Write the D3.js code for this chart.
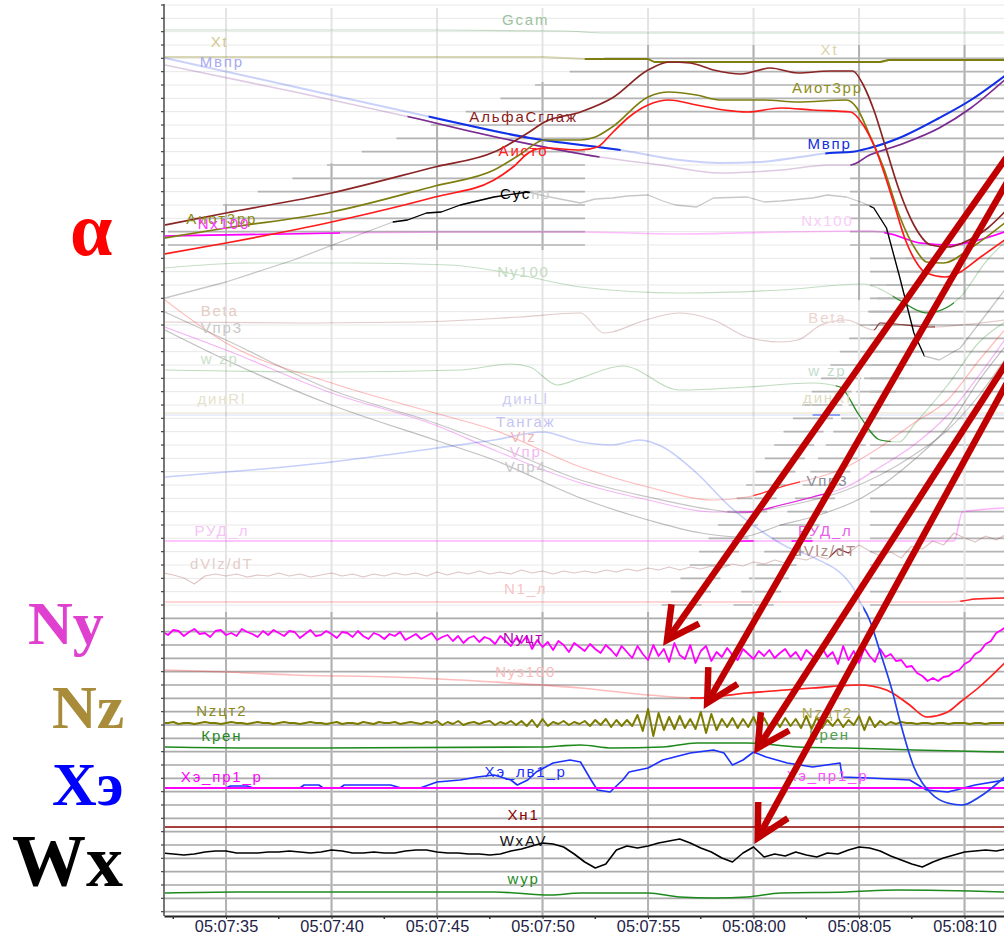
<!DOCTYPE html>
<html>
<head>
<meta charset="utf-8">
<script src="https://cdnjs.cloudflare.com/ajax/libs/d3/7.8.5/d3.min.js"></script>
<style>
html, body { margin: 0; padding: 0; background: #fff; }
svg { display: block; }
.axis-x text { font-family: Arial, "Liberation Sans", sans-serif; font-size: 16.3px; }
</style>
</head>
<body>
<div id="chart"></div>
<script>
// time = seconds after 05:07:00, value = trace units (0 at the bottom of the plot)
const tStart = 32.06, tEnd = 71.87;
const majorTicks = [30, 35, 40, 45, 50, 55, 60, 65, 70];
const minorTicks = [32.5, 37.5, 42.5, 47.5, 52.5, 57.5, 62.5, 67.5];

// ---- smooth traces, [t, value] ----
const gcam = [[32.1,88.5],[45,88.5],[51,88.4],[53,88.2],[72,88.2]];
const xt = [[32.1,85.8],[50,85.8],[52,85.6],[55.0,85.6],[55.3,85.3],[66.0,85.3],[66.4,85.5],[72,85.5]];
const mvpr = [[32.1,85.7],[38.5,82.7],[44.7,79.8],[49.4,77.7],[53.7,76.5],[56.5,75.5],[58.4,75.2],[60.3,75.3],[62.2,75.8],[63.6,76.2],[64.6,76.3],[65.5,76.7],[66.9,77.7],[68.8,79.7],[70.3,81.5],[71.9,83.9]];
const mvprZ = [[32.1,85.0],[38.5,82.2],[43.7,79.8],[48.0,77.7],[52.7,75.8],[55.6,75.0],[58.4,74.2],[61.3,74.5],[63.6,75.0],[64.6,75.0],[65.5,76.0],[66.9,77.0],[68.8,78.7],[70.3,80.7],[71.9,83.5]];
const alfa = [[32.1,69.0],[35.0,70.2],[40.0,72.2],[44.9,74.8],[47.7,76.3],[49.3,78.2],[50.1,79.3],[51.8,80.3],[53.3,81.7],[55.0,84.5],[56.0,85.3],[57.0,85.2],[58.1,84.5],[59.4,84.1],[60.8,84.7],[62.1,84.2],[63.6,84.4],[64.7,84.4],[65.2,83.0],[65.7,80.5],[66.3,76.5],[66.9,72.5],[67.6,69.0],[68.4,67.0],[69.2,66.8],[69.9,67.2],[71.1,68.7],[71.9,70.3]];
const aiot = [[32.1,67.7],[35.0,68.7],[40.0,70.3],[44.9,72.9],[47.7,74.5],[48.9,76.0],[50.1,77.5],[51.8,77.5],[52.5,77.8],[53.3,78.8],[55.0,81.8],[56.0,82.3],[57.3,82.0],[58.4,81.5],[60.5,81.5],[62.1,81.3],[64.4,81.5],[64.9,80.7],[65.5,78.0],[66.2,74.5],[66.9,70.0],[67.7,66.5],[68.2,65.3],[69.0,65.2],[70.3,66.7],[71.9,69.2]];
const aisto = [[32.1,66.1],[35.0,67.2],[40.0,69.3],[44.9,71.8],[47.7,73.5],[48.6,74.8],[49.4,76.3],[50.1,76.7],[51.8,76.5],[52.6,76.8],[53.3,78.2],[54.1,79.8],[55.0,81.0],[56.0,81.5],[57.3,81.0],[58.6,80.5],[59.7,80.3],[61.3,80.7],[62.8,80.5],[64.6,80.3],[65.2,79.0],[65.8,76.5],[66.6,71.5],[67.2,67.5],[67.8,65.0],[68.1,64.3],[69.1,63.8],[69.8,64.3],[70.7,65.7],[71.9,67.5]];
const suspr = [[32.1,61.7],[35.0,63.3],[38.2,65.5],[41.4,68.1],[42.9,69.3],[43.6,69.5],[44.5,70.2],[45.2,70.3],[46.1,71.0],[47.7,71.8],[49.3,72.3],[50.1,71.9],[51.8,71.2],[52.5,71.6],[53.3,71.7],[54.0,71.9],[55.0,72.0],[55.7,71.4],[56.3,71.0],[57.3,70.8],[58.1,71.7],[59.7,71.8],[60.5,71.3],[61.3,71.4],[62.8,71.7],[63.5,72.0],[64.4,71.8],[65.2,71.2],[65.7,70.7],[66.3,68.7],[66.9,64.0],[67.6,58.2],[68.1,55.9],[68.8,55.5],[69.8,56.7],[71.0,60.0],[71.9,62.5]];
const nx100 = [[32.1,67.9],[40.4,68.2],[45.6,68.3],[51.8,68.3],[56.5,68.1],[61.3,68.3],[65.5,68.4],[66.5,68.1],[67.9,67.2],[69.4,67.0],[70.5,67.4],[71.9,68.3]];
const ny100 = [[32.1,64.7],[36.1,65.2],[40.9,65.2],[45.6,65.0],[48.9,64.0],[51.8,62.8],[56.5,62.2],[61.3,62.5],[65.2,63.1],[66.1,62.5],[66.9,61.5],[68.2,60.2],[69.2,60.8],[69.8,61.8],[71.0,65.3],[71.9,67.3]];
const beta = [[32.1,59.3],[38.5,59.2],[44.2,59.3],[48.9,59.8],[51.8,60.2],[52.9,58.2],[53.3,58.3],[54.6,59.3],[56.5,60.2],[58.1,59.5],[59.7,57.8],[61.3,57.3],[62.1,57.5],[63.2,59.0],[64.4,59.5],[65.7,58.5],[66.0,59.2],[68.4,58.8],[70.7,59.2],[71.9,59.5]];
const vlz = [[32.1,61.5],[35.0,57.2],[40.0,53.2],[44.9,50.2],[47.7,48.5],[51.8,44.8],[55.0,42.8],[58.1,41.5],[59.7,41.8],[61.3,42.8],[64.4,44.8],[66.0,46.8],[67.6,49.2],[69.2,51.5],[70.7,55.5],[71.9,58.5]];
const vpr3 = [[32.1,60.3],[35.0,57.5],[40.0,52.5],[44.9,49.2],[47.7,47.0],[51.8,43.5],[55.0,41.8],[58.1,40.5],[59.4,40.2],[61.3,40.8],[64.4,42.5],[66.0,44.0],[67.6,46.0],[69.2,48.5],[70.7,52.0],[71.9,55.5]];
const vpr = [[32.1,58.8],[35.0,56.5],[40.0,52.2],[44.9,49.0],[47.7,46.5],[51.8,43.2],[55.0,41.5],[58.1,40.3],[59.7,40.3],[61.3,41.0],[62.8,41.8],[64.4,42.8],[66.0,44.8],[67.6,47.0],[69.2,50.0],[70.7,54.0],[71.9,57.5]];
const vpr4 = [[32.1,58.5],[35.0,55.5],[40.0,51.0],[44.9,47.5],[47.7,45.5],[51.8,41.7],[55.0,39.5],[57.5,38.2],[59.4,37.8],[61.3,39.0],[62.8,39.8],[65.2,41.8],[67.6,45.5],[69.2,48.8],[70.7,53.5],[71.9,56.8]];
const wzp = [[32.1,54.5],[40.0,54.3],[46.1,54.5],[48.5,55.1],[49.4,54.8],[50.7,53.0],[51.8,53.7],[53.8,54.9],[56.5,52.5],[59.7,52.8],[62.8,53.2],[64.1,52.8],[65.0,50.0],[66.0,47.5],[66.9,47.3],[67.6,49.0],[69.2,53.0],[70.7,57.3],[71.9,59.3]];
const dinRl = [[32.1,50.2],[71.9,50.2]];
const dinLl = [[32.1,50.0],[71.9,50.0]];
const tangazh = [[32.1,43.8],[40.0,45.3],[45.0,46.7],[47.7,47.5],[50.0,48.3],[51.8,47.3],[53.3,47.0],[54.6,47.5],[55.7,46.8],[57.3,44.2],[58.9,40.8],[60.5,38.2],[61.6,36.8],[62.8,35.8],[64.7,32.8],[65.0,31.5],[65.5,29.5],[66.0,26.3],[66.6,22.2],[66.9,19.7],[67.6,14.8],[68.4,12.2],[69.2,11.2],[69.9,11.0],[70.7,11.8],[71.9,13.8]];
const rud = [[32.1,37.4],[69.5,37.4],[69.9,40.3],[71.9,40.7]];
const n1 = [[32.1,31.3],[69.2,31.3],[69.9,31.4],[70.5,31.6],[71.9,31.7]];
const nyz100 = [[32.1,24.5],[35.0,24.3],[38.2,24.0],[42.9,23.8],[47.7,23.3],[51.8,22.7],[55.0,22.0],[57.3,21.7],[59.7,22.2],[62.8,22.7],[65.0,23.0],[66.3,22.5],[67.4,21.0],[68.2,19.8],[69.2,20.3],[69.8,21.3],[70.7,22.8],[71.9,25.2]];
const kren = [[32.1,16.8],[36.6,16.7],[50.0,16.8],[50.8,16.9],[51.8,17.0],[53.3,16.7],[55.7,16.8],[57.3,17.2],[59.7,17.2],[62.1,16.8],[64.4,16.7],[67.6,16.5],[71.9,16.3]];
const xePr = [[32.1,12.7],[71.9,12.7]];
const xeLv = [[32.1,12.7],[35.0,12.7],[35.2,12.9],[36.0,12.9],[36.3,12.7],[38.5,12.7],[38.7,13.0],[39.4,13.0],[39.6,12.7],[40.4,12.7],[40.6,13.0],[42.8,13.0],[43.3,12.7],[44.2,12.7],[45.0,13.3],[46.1,13.5],[46.9,13.8],[47.7,14.0],[48.5,13.5],[48.8,13.0],[49.3,13.5],[49.7,14.3],[50.5,15.2],[51.3,15.5],[51.8,15.3],[52.3,13.5],[52.6,12.5],[53.2,12.3],[53.8,13.5],[54.1,14.3],[55.0,14.7],[55.7,15.5],[57.0,16.2],[58.1,16.5],[58.6,16.2],[59.0,15.0],[59.5,15.5],[60.0,16.3],[60.6,15.8],[61.6,15.2],[62.8,14.8],[64.1,15.2],[64.2,13.8],[65.5,13.7],[67.4,13.5],[68.2,12.5],[69.2,12.3],[69.6,12.5],[70.5,13.0],[71.9,13.5]];
const xn1 = [[32.1,8.8],[71.9,8.8]];
const wyp = [[32.1,2.2],[35.5,2.3],[47.7,2.3],[50.4,2.0],[51.8,2.2],[55.0,2.2],[56.5,1.8],[58.1,1.7],[59.7,1.8],[61.3,2.2],[64.4,2.3],[66.8,2.5],[71.9,2.3]];

// ---- sampled traces (start 32 s) ----
const nyStep = 0.25;
const nyVals = [
  28.3,28.0,28.5,28.4, 27.9,28.3,28.6,28.1, 28.2,27.8,28.4,28.5, 28.0,28.2,27.9,28.6,
  28.3,28.1,27.8,28.4, 28.0,28.5,28.2,27.9, 28.4,28.3,27.7,28.1, 28.5,27.9,28.0,28.4,
  28.1,27.7,28.3,28.2, 27.8,28.4,27.9,27.6, 28.2,28.0,27.6,28.1, 27.9,28.3,27.5,27.8,
  28.1,27.6,27.9,28.2, 27.5,27.8,28.0,27.4, 27.9,27.2,27.7,27.9, 27.3,27.8,27.6,27.1,
  27.9,27.4,26.9,27.7, 27.2,27.9,26.6,27.5, 26.8,27.3,26.5,27.4, 27.0,26.3,27.2,26.8,
  26.4,27.1,26.6,26.2, 27.0,26.5,25.9,26.9, 26.3,25.7,26.9,26.1, 25.5,27.0,25.9,26.6,
  25.3,27.2,26.0,25.6, 27.0,25.2,26.4,26.9, 25.4,26.3,25.8,26.7, 26.0,25.5,26.6,26.1,
  25.6,26.4,25.9,26.5, 25.7,26.2,26.6,25.8, 26.3,25.5,26.5,26.0, 25.4,26.7,25.8,26.3,
  25.1,26.9,25.5,26.4, 25.2,26.7,25.9,25.3, 26.6,25.8,26.1,25.4, 25.5,24.8,24.9,24.2,
  23.9,23.4,23.7,23.4, 23.8,23.9,24.3,24.5, 25.1,25.4,26.1,26.4, 27.1,27.4,28.2,28.5,
  28.9
];
const nzStep = 0.25;
const nzVals = [
  19.2,19.2,19.3,19.1, 19.2,19.2,19.1,19.2, 19.3,19.2,19.2,19.1, 19.2,19.3,19.2,19.2,
  19.1,19.2,19.3,19.2, 19.2,19.1,19.2,19.3, 19.2,19.2,19.1,19.2, 19.3,19.2,19.2,19.1,
  19.2,19.3,19.1,19.2, 19.2,19.1,19.3,19.2, 19.1,19.3,19.2,19.2, 19.3,19.1,19.2,19.3,
  19.2,19.1,19.3,19.2, 19.4,19.0,19.3,19.1, 19.4,19.0,19.2,19.3, 19.1,19.3,19.4,19.0,
  19.3,19.1,19.4,19.0, 19.4,18.9,19.5,18.8, 19.6,18.9,19.3,19.1, 19.4,19.0,19.3,19.1,
  19.4,18.9,19.5,19.0, 19.6,18.8,19.5,18.9, 19.5,18.9,20.0,18.4, 20.6,17.9,20.2,18.5,
  19.8,18.6,19.9,18.7, 19.6,18.6,20.3,18.2, 20.1,18.5,19.6,18.8, 19.7,18.7,19.6,18.8,
  19.8,18.6,19.7,18.7, 19.6,18.8,19.7,18.9, 19.6,18.7,19.9,18.6, 19.8,18.7,19.5,18.9,
  19.6,18.8,19.5,19.0, 19.9,18.5,19.8,18.8, 19.4,19.0,19.3,19.1, 19.3,19.2,19.2,19.1,
  19.2,19.2,19.1,19.2, 19.2,19.1,19.2,19.2, 19.2,19.1,19.2,19.2, 19.1,19.2,19.2,19.2,
  19.2
];
const wxStep = 0.5;
const wxVals = [
  6.2,6.1,6.0,6.1,6.3,6.4,6.4,6.2,6.2,6.2,
  6.3,6.3,6.4,6.3,6.2,6.3,6.5,6.4,6.2,6.2,
  6.3,6.2,6.2,6.4,6.5,6.5,6.3,6.2,6.2,6.1,
  6.1,6.0,6.1,6.4,6.6,6.9,7.2,7.1,6.8,6.1,
  5.3,4.7,5.1,6.5,6.9,6.7,6.9,7.2,7.4,7.6,
  7.2,6.7,6.3,5.7,5.3,6.2,6.8,5.8,6.1,5.9,
  6.3,6.0,5.8,6.2,6.1,6.5,6.8,6.7,6.4,5.9,
  5.5,5.1,4.8,5.3,5.7,6.0,6.3,6.4,6.5,6.4,
  6.6
];
const dvlzStep = 0.5;
const dvlzVals = [
  34.2,34.0,33.7,33.1,33.9,34.1,33.9,34.1,33.8,34.0,
  33.9,34.2,33.9,34.1,33.8,34.0,34.2,33.9,34.1,33.8,
  34.1,33.9,34.2,34.0,34.2,33.9,34.3,34.0,34.3,34.1,
  34.4,34.1,34.3,34.1,34.5,34.2,34.4,34.1,34.4,34.2,
  34.4,34.2,34.5,34.3,34.6,34.4,34.7,34.5,34.8,34.5,
  34.8,34.6,34.9,34.7,35.1,34.9,35.3,35.1,35.5,35.2,
  35.7,35.5,35.9,35.6,36.6,36.2,37.0,36.4,35.9,36.3,
  35.7,36.9,36.6,37.4,37.0,38.2,37.7,37.3,37.9,37.5,
  38.1
];
const sampled = (vals, step) => vals.map((v, i) => [32 + i * step, v]);
const ny = sampled(nyVals, nyStep);
const nz = sampled(nzVals, nzStep);
const wxav = sampled(wxVals, wxStep);
const dvlz = sampled(dvlzVals, dvlzStep);

// trace labels: text, t, value
const labels = [
  ['Gcam',49.2,89.0,'#9cc39c'], ['Xt',34.7,86.8,'#d4c890'], ['Мвпр',34.8,84.8,'#a8a8f0'],
  ['АльфаСглаж',49.1,79.3,'#8b1a1a'], ['Аисто',49.1,75.9,'#ff2020'],
  ['Аиот3рр',34.8,69.1,'#8a8a10'], ['Nx100',34.9,68.6,'#ff30ff'],
  ['Ny100',49.1,63.8,'#c4dcc4'], ['Beta',34.7,59.9,'#e4ccc4'], ['Vпр3',34.8,58.2,'#c8c8c8'],
  ['w zp',34.7,55.1,'#c8dfc8'], ['динRl',34.8,51.1,'#e6e2cc'], ['динLl',49.2,51.1,'#ccccf4'],
  ['Тангаж',49.2,48.8,'#c4c4f4'], ['Vlz',49.1,47.3,'#f4b4b4'], ['Vпр',49.2,45.8,'#f2b8f2'],
  ['Vпр4',49.2,44.3,'#c8c8c8'], ['РУД_л',34.8,37.9,'#f6c4f6'], ['dVlz/dT',34.8,34.6,'#e4cec8'],
  ['N1_л',49.2,32.1,'#f8c4c4'],
  ['Xt',63.6,86.0,'#dcd4ac'], ['Аиот3рр',63.5,82.2,'#8e8e20'], ['Мвпр',63.6,76.6,'#1030e0'],
  ['Nx100',63.5,68.9,'#f8ccf8'], ['Beta',63.5,59.2,'#ecd4d0'], ['w zp',63.5,53.9,'#c4dccc'],
  ['динRl',63.5,51.2,'#e0dcc0'], ['Vпр3',63.5,42.9,'#8c8c98'], ['РУД_л',63.4,37.9,'#e860e8'],
  ['dVlz/dT',63.4,35.9,'#b08a84'],
  ['Nyцт',49.1,27.2,'#b000b0'], ['Nyз100',49.2,23.8,'#f8bcbc'], ['Nzцт2',34.8,19.9,'#8a8a20'],
  ['Крен',34.8,17.4,'#1e8a1e'], ['Хэ_пр1_р',34.8,13.3,'#ff00ff'], ['Хэ_лв1_р',49.2,13.8,'#1a30ff'],
  ['Хн1',49.1,9.5,'#8b0000'], ['WxAV',49.1,6.9,'#111'], ['wyp',49.1,3.1,'#1e8a1e'],
  ['Nzцт2',63.5,19.7,'#b0a850'], ['Крен',63.6,17.5,'#50a050'], ['Хэ_пр1_р',63.5,13.4,'#ff50ff']
];

// arrow tips and tails (t, value)
const arrowTips = [[55.9,27.5],[57.8,21.2],[60.2,16.7],[60.2,7.7]];
const arrowTails = [[73.5,80.3],[73.3,78.0],[73.4,59.8],[73.2,57.8]];

// big side captions
const sideLabels = [
  {text:'α', color:'#ff0000', x:70, y:255, size:76},
  {text:'Ny', color:'#e040d0', x:28, y:644, size:62},
  {text:'Nz', color:'#a88c3a', x:52, y:728, size:62},
  {text:'Хэ', color:'#0000ff', x:52, y:805, size:62},
  {text:'Wx', color:'#000000', x:12, y:886, size:74}
];

// ---------------------------------------------------------------
const W = 1004, H = 932;
const left = 164, right = 1004, bottom = 916;

const base = new Date(2000, 0, 1, 5, 7, 0);
const toDate = s => new Date(base.getTime() + s * 1000);
const x = d3.scaleTime().domain([toDate(tStart), toDate(tEnd)]).range([left, right]);
const xs = s => x(toDate(s));
const y = d3.scaleLinear().domain([0, 91.5]).range([915, 0]);

const svg = d3.select('#chart').append('svg')
    .attr('width', W)
    .attr('height', H);
const defs = svg.append('defs');
defs.append('clipPath').attr('id', 'plot').append('rect')
    .attr('x', left + 1).attr('y', 0).attr('width', right - left).attr('height', bottom);
defs.append('clipPath').attr('id', 'axisclip').append('rect')
    .attr('x', left - 4).attr('y', -2).attr('width', right - left + 8).attr('height', 30);

svg.append('rect').attr('width', W).attr('height', H).attr('fill', '#fff');

// arrows in pixel space (needed for the grid too)
const arrows = arrowTips.map((tip, i) => {
    const p = [xs(tip[0]), y(tip[1])];
    const q = [xs(arrowTails[i][0]), y(arrowTails[i][1])];
    return {tip: p, tail: q};
});
const arrowXat = (a, py) => a.tip[0] + (a.tail[0] - a.tip[0]) * (py - a.tip[1]) / (a.tail[1] - a.tip[1]);

// ---- grid ----
const gridG = svg.append('g').attr('class', 'grid');
const rowVals = d3.range(0, 69).map(k => 91.0 - k * 4 / 3);

function darkSpans(py) {
    if (py >= 612) return [[left, right]];
    const start = Math.max(left + 4, 600 - (py - 60) * 2.6);
    if (py >= 55 && py < 140) return [[start, right]];
    if (py >= 140 && py < 250) return [[start, 585], [850, right]];
    if (py >= 250 && py < 612) {
        const s = [[870, right]];
        if (py > 255) {
            [arrows[0], arrows[1]].forEach(a => {
                const ax = arrowXat(a, py);
                s.push([ax - 30, ax + 10]);
            });
        }
        return s;
    }
    return [];
}

rowVals.forEach(v => {
    const py = y(v);
    gridG.append('line')
        .attr('x1', left).attr('x2', right).attr('y1', py).attr('y2', py)
        .attr('stroke', '#e8e8e8').attr('stroke-width', 1);
    darkSpans(py).forEach(([a, b]) => {
        gridG.append('line')
            .attr('x1', a).attr('x2', b).attr('y1', py).attr('y2', py)
            .attr('stroke', py >= 612 ? '#ababab' : '#b4b4b4')
            .attr('stroke-width', 1.6);
    });
});

majorTicks.filter(s => s > tStart).forEach(s => {
    const px = xs(s);
    gridG.append('line')
        .attr('x1', px).attr('x2', px).attr('y1', 8).attr('y2', bottom)
        .attr('stroke', '#e4e4e4').attr('stroke-width', 2);
    let top, bot;
    if (px < 600) { top = 60 + (600 - px) / 2.6; bot = 250; }
    else if (px < 850) { top = 45; bot = 140; }
    else { top = 45; bot = 300; }
    [[top, bot], [612, bottom]].forEach(([a, b]) => {
        gridG.append('line')
            .attr('x1', px).attr('x2', px).attr('y1', a).attr('y2', b)
            .attr('stroke', '#b2b2b2').attr('stroke-width', 2);
    });
});

// ---- traces ----
const traces = [
    {data: gcam, color: '#3c8c3c', w: 1.2, fade: 0.3, bright: []},
    {data: dinRl, color: '#b8a850', w: 1.2, fade: 0.35, bright: []},
    {data: dinLl, color: '#3050f0', w: 1.2, fade: 0.2, bright: [[62.8, 64.1]]},
    {data: ny100, color: '#2a8a2a', w: 1.2, fade: 0.28, bright: [[66.6, 69.5]]},
    {data: beta, color: '#8b3030', w: 1.2, fade: 0.25, bright: [[65.7, 68.6]]},
    {data: wzp, color: '#2a8a2a', w: 1.2, fade: 0.3, bright: [[63.9, 66.5]]},
    {data: vlz, color: '#ff3030', w: 1.2, fade: 0.32, bright: [[60.0, 62.2]]},
    {data: vpr3, color: '#505050', w: 1.2, fade: 0.32, bright: []},
    {data: vpr, color: '#e020e0', w: 1.2, fade: 0.32, bright: [[59.3, 63.5]]},
    {data: vpr4, color: '#505050', w: 1.2, fade: 0.36, bright: []},
    {data: rud, color: '#ff00ff', w: 1.4, fade: 0.3, bright: [[59.0, 60.0], [61.8, 62.8]]},
    {data: dvlz, color: '#8b3030', w: 1.2, fade: 0.28, bright: [[63.6, 64.6]], raw: true},
    {data: n1, color: '#ff2020', w: 1.4, fade: 0.25, bright: [[69.8, 72]]},
    {data: xt, color: '#7e7e10', w: 1.8, fade: 0.3, bright: [[52, 72]], raw: true},
    {data: nx100, color: '#ff00ff', w: 1.6, fade: 0.25, bright: [[32, 40.4], [66.2, 72]]},
    {data: suspr, color: '#000000', w: 1.3, fade: 0.22, bright: [[42.9, 49.4], [65.5, 68.1]], raw: true},
    {data: mvpr, color: '#1030e8', w: 2, fade: 0.22, bright: [[44.6, 53.7], [63.4, 72]]},
    {data: mvprZ, color: '#7a2a90', w: 1.6, fade: 0.25, bright: [[43.6, 52.7], [64.6, 72]]},
    {data: alfa, color: '#8b2525', w: 1.7, fade: 0, bright: [[32, 72]]},
    {data: aiot, color: '#7e7e10', w: 1.7, fade: 0, bright: [[32, 72]]},
    {data: aisto, color: '#ff1a1a', w: 1.7, fade: 0, bright: [[32, 72]]},
    {data: nyz100, color: '#ff2020', w: 1.6, fade: 0.3, bright: [[57, 72]]},
    {data: ny, color: '#ff00ff', w: 1.8, fade: 0, bright: [[32, 72]], raw: true},
    {data: nz, color: '#7c7c00', w: 2, fade: 0, bright: [[32, 72]], raw: true},
    {data: kren, color: '#1e8a1e', w: 1.6, fade: 0, bright: [[32, 72]]},
    {data: xeLv, color: '#1a30ff', w: 1.6, fade: 0, bright: [[32, 72]], raw: true},
    {data: xePr, color: '#ff00ff', w: 2, fade: 0, bright: [[32, 72]]},
    {data: xn1, color: '#8b0000', w: 1.6, fade: 0, bright: [[32, 72]]},
    {data: wxav, color: '#000000', w: 1.6, fade: 0, bright: [[32, 72]], raw: true},
    {data: wyp, color: '#1e8a1e', w: 1.6, fade: 0, bright: [[32, 72]]},
    {data: tangazh, color: '#2040f0', w: 1.6, fade: 0.25, bright: [[65.2, 72]]}
];

let clipCount = 0;
function spanClip(a, b) {
    const id = 'span' + (clipCount++);
    const x0 = Math.max(left, xs(a)), x1 = Math.min(right + 10, xs(b));
    defs.append('clipPath').attr('id', id).append('rect')
        .attr('x', x0).attr('y', 0).attr('width', Math.max(0, x1 - x0)).attr('height', bottom);
    return id;
}

const traceG = svg.append('g').attr('clip-path', 'url(#plot)');
traces.forEach(tr => {
    const gen = d3.line()
        .x(d => xs(d[0]))
        .y(d => y(d[1]))
        .curve(tr.raw ? d3.curveLinear : d3.curveMonotoneX);
    const path = gen(tr.data);
    if (tr.fade > 0) {
        traceG.append('path').attr('d', path)
            .attr('fill', 'none').attr('stroke', tr.color)
            .attr('stroke-width', tr.w).attr('stroke-opacity', tr.fade)
            .attr('stroke-linejoin', 'round');
    }
    tr.bright.forEach(([a, b]) => {
        traceG.append('g').attr('clip-path', `url(#${spanClip(a, b)})`)
            .append('path').attr('d', path)
            .attr('fill', 'none').attr('stroke', tr.color)
            .attr('stroke-width', tr.w).attr('stroke-linejoin', 'round');
    });
});

// ---- labels ----
const labelG = svg.append('g')
    .attr('font-family', 'Arial, "Liberation Sans", sans-serif')
    .attr('font-size', 15)
    .attr('letter-spacing', 1.8)
    .attr('text-anchor', 'middle');
labels.forEach(([txt, t, v, c]) => {
    labelG.append('text').attr('x', xs(t)).attr('y', y(v)).attr('fill', c).text(txt);
});
// Суспр is only partly highlighted
const sus = labelG.append('text').attr('x', xs(49.2)).attr('y', y(71.6));
sus.append('tspan').attr('fill', '#000').text('Сус');
sus.append('tspan').attr('fill', '#cfcfcf').text('пр');

// ---- axes ----
const axisG = svg.append('g')
    .attr('class', 'axis-x')
    .attr('transform', `translate(0,${bottom})`)
    .attr('clip-path', 'url(#axisclip)')
    .call(d3.axisBottom(x)
        .tickValues(majorTicks.map(toDate))
        .tickFormat(d3.timeFormat('%H:%M:%S'))
        .tickSize(3)
        .tickSizeOuter(0)
        .tickPadding(1));
axisG.attr('font-size', null).attr('font-family', null);
axisG.select('.domain').attr('stroke', '#222').attr('stroke-width', 2);
axisG.selectAll('.tick line').attr('stroke', '#333');
axisG.selectAll('.tick text').attr('fill', '#222244');
axisG.selectAll('.minor').data(minorTicks).enter().append('line')
    .attr('x1', d => xs(d)).attr('x2', d => xs(d))
    .attr('y1', 0).attr('y2', 3)
    .attr('stroke', '#333').attr('stroke-width', 1.5);

const yAxisG = svg.append('g');
yAxisG.append('line')
    .attr('x1', left).attr('x2', left).attr('y1', 4).attr('y2', bottom)
    .attr('stroke', '#555').attr('stroke-width', 1.6);
yAxisG.selectAll('.yt').data(rowVals).enter().append('line')
    .attr('x1', left - 3).attr('x2', left)
    .attr('y1', d => y(d)).attr('y2', d => y(d))
    .attr('stroke', '#444').attr('stroke-width', 1.2);

// ---- big side captions ----
sideLabels.forEach(s => {
    svg.append('text')
        .attr('x', s.x).attr('y', s.y)
        .attr('font-family', '"Liberation Serif", "DejaVu Serif", serif')
        .attr('font-weight', 'bold')
        .attr('font-size', s.size)
        .attr('fill', s.color)
        .text(s.text);
});

// ---- red arrows ----
const arrowG = svg.append('g')
    .attr('stroke', '#c00000').attr('stroke-width', 6.5)
    .attr('fill', 'none').attr('stroke-linejoin', 'miter');
arrows.forEach(a => {
    arrowG.append('line')
        .attr('x1', a.tail[0]).attr('y1', a.tail[1])
        .attr('x2', a.tip[0]).attr('y2', a.tip[1]);
    const ang = Math.atan2(a.tail[1] - a.tip[1], a.tail[0] - a.tip[0]);
    const len = 36, spread = 28 * Math.PI / 180;
    const w1 = [a.tip[0] + len * Math.cos(ang + spread), a.tip[1] + len * Math.sin(ang + spread)];
    const w2 = [a.tip[0] + len * Math.cos(ang - spread), a.tip[1] + len * Math.sin(ang - spread)];
    arrowG.append('path').attr('d', `M${w1[0]},${w1[1]}L${a.tip[0]},${a.tip[1]}L${w2[0]},${w2[1]}`);
});
</script>
</body>
</html>
